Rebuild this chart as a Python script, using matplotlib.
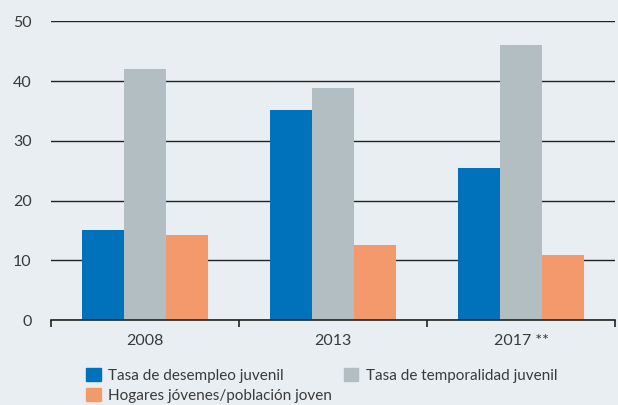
import numpy as np
import matplotlib.pyplot as plt
from matplotlib.patches import Patch

# datos
anios = ["2008", "2013", "2017 **"]
desempleo = [15.0, 35.2, 25.4]
temporalidad = [42.0, 38.9, 46.0]
hogares = [14.2, 12.5, 10.9]

series = ["Tasa de desempleo juvenil", "Tasa de temporalidad juvenil",
          "Hogares jóvenes/población joven"]
colores = ["#0072bb", "#b3bec3", "#f4996b"]
fondo = "#e9eef2"
texto = "#3a3a3a"

plt.rcParams["font.family"] = ["Lato", "DejaVu Sans"]

fig = plt.figure(figsize=(6.18, 4.05), dpi=100, facecolor=fondo)
ax = fig.add_axes([51 / 618, 85 / 405, 564 / 618, 298.7 / 405])
ax.set_facecolor(fondo)

x = np.arange(len(anios))
w = 0.222
ax.bar(x - w, desempleo, w, color=colores[0], zorder=3)
ax.bar(x, temporalidad, w, color=colores[1], zorder=3)
ax.bar(x + w, hogares, w, color=colores[2], zorder=3)

ax.set_xlim(-0.5, 2.5)
ax.set_ylim(0, 50)
ax.set_yticks([0, 10, 20, 30, 40, 50])
ax.yaxis.grid(True, color="#222222", linewidth=1.0, zorder=0)
ax.set_axisbelow(True)

for s in ["top", "right", "left"]:
    ax.spines[s].set_visible(False)
ax.spines["bottom"].set_color("#222222")
ax.spines["bottom"].set_linewidth(1.2)
ax.spines["bottom"].set_zorder(4)

ax.set_xticks(x)
ax.set_xticklabels(anios)
ax.set_xticks([-0.5, 0.5, 1.5, 2.5], minor=True)
ax.tick_params(axis="x", which="major", length=0, pad=10, labelsize=11.5, labelcolor=texto)
ax.tick_params(axis="x", which="minor", length=5, width=1.2, color="#222222", direction="out")
ax.tick_params(axis="y", length=0, pad=14, labelsize=11.5, labelcolor=texto)

handles = [Patch(color=colores[0]), Patch(color=colores[2]), Patch(color=colores[1])]
labels = [series[0], series[2], series[1]]
fig.legend(handles, labels, ncol=2, loc="upper left", bbox_to_anchor=(74 / 618, 1 - 356 / 405),
           frameon=False, fontsize=11, labelcolor=texto, handlelength=0.95,
           handleheight=0.95, handletextpad=0.5, columnspacing=0.75, labelspacing=0.33,
           borderpad=0.3)

fig.savefig("out.png", dpi=100, facecolor=fondo)
